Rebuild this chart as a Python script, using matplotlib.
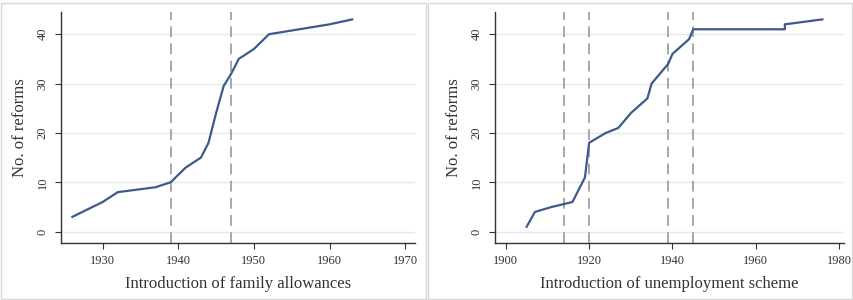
import matplotlib.pyplot as plt
from matplotlib.patches import Rectangle

plt.rcParams["font.family"] = ["Liberation Serif", "DejaVu Serif"]

# family allowances
fam_years = [1926, 1928, 1930, 1932, 1937, 1939, 1940, 1941, 1943, 1944,
             1945, 1946, 1947, 1948, 1950, 1952, 1960, 1963]
fam_reforms = [3, 4.5, 6, 8, 9, 10, 11.5, 13, 15, 18,
               24, 29.5, 32, 35, 37, 40, 42, 43]
fam_vlines = [1939, 1947]
fam_xticks = [1930, 1940, 1950, 1960, 1970]

# unemployment scheme
une_years = [1905, 1907, 1911, 1916, 1919, 1920, 1924, 1927, 1930, 1934,
             1935, 1937, 1939, 1940, 1944, 1945, 1967, 1967, 1976]
une_reforms = [1, 4, 5, 6, 11, 18, 20, 21, 24, 27,
               30, 32, 34, 36, 39, 41, 41, 42, 43]
une_vlines = [1914, 1920, 1939, 1945]
une_xticks = [1900, 1920, 1940, 1960, 1980]

yticks = [0, 10, 20, 30, 40]

LINE = "#3d5a8a"
DASH = "#a0a0a0"
GRID = "#e3e9ee"

W, H = 854, 300
fig = plt.figure(figsize=(W / 100, H / 100), dpi=100)

# light frames around each panel
for x0, x1 in [(1, 426), (428, 852)]:
    fig.patches.append(Rectangle((x0 / W, 1 / H), (x1 - x0) / W, (H - 4) / H,
                                 transform=fig.transFigure, fill=False,
                                 edgecolor="#d8d8d8", linewidth=1))


def panel(rect, years, reforms, vlines, xticks, xlim, xlabel):
    l, t, r, b = rect
    ax = fig.add_axes([l / W, 1 - b / H, (r - l) / W, (b - t) / H])
    ax.plot(years, reforms, color=LINE, linewidth=1.6, zorder=3)
    for v in vlines:
        ax.axvline(v, color=DASH, linestyle=(0, (6, 3.5)), linewidth=1.3, zorder=2)
    ax.set_xlim(*xlim)
    ax.set_ylim(-2.3, 44.5)
    ax.set_xticks(xticks)
    ax.set_yticks(yticks)
    ax.grid(axis="y", color=GRID, linewidth=1)
    ax.set_axisbelow(True)
    for s in ["top", "right"]:
        ax.spines[s].set_visible(False)
    for s in ["left", "bottom"]:
        ax.spines[s].set_color("#333333")
        ax.spines[s].set_linewidth(1)
    ax.tick_params(labelsize=9, color="#333333", length=4, pad=5,
                   labelcolor="#333333")
    for lab in ax.get_yticklabels():
        lab.set_rotation(90)
        lab.set_va("center")
    ax.set_xlabel(xlabel, fontsize=12, color="#333333", labelpad=6)
    ax.set_ylabel("No. of reforms", fontsize=12, color="#333333", labelpad=6)
    return ax


panel((61, 12, 415, 243), fam_years, fam_reforms, fam_vlines, fam_xticks,
      (1924.5, 1971.3), "Introduction of family allowances")
panel((495, 12, 844, 243), une_years, une_reforms, une_vlines, une_xticks,
      (1897.4, 1981.2), "Introduction of unemployment scheme")

fig.savefig("out.png", dpi=100)
